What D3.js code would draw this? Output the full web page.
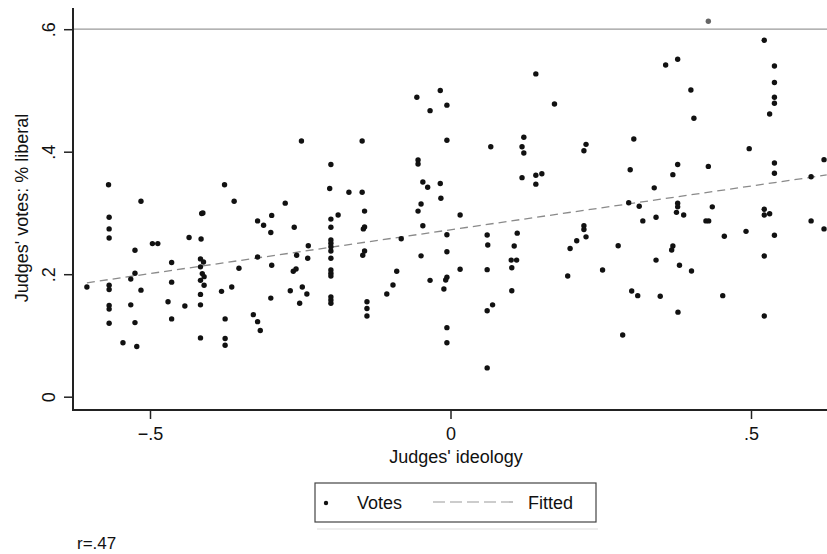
<!DOCTYPE html>
<html>
<head>
<meta charset="utf-8">
<script src="https://cdn.jsdelivr.net/npm/d3@7"></script>
<style>
  html, body { margin: 0; padding: 0; background: #fff; }
  svg { display: block; font-family: "Liberation Sans", Arial, sans-serif; }
</style>
</head>
<body>
<svg id="chart" width="827" height="554"></svg>
<script>
// ---- data ----
const ideology = [
  -0.569,-0.515,-0.376,-0.360,
  -0.568,-0.568,-0.568,-0.414,-0.412,-0.2975,-0.321,-0.311,-0.299,-0.435,-0.415,-0.496,-0.487,-0.525,-0.464,-0.416,
  -0.411,-0.321,-0.2975,-0.352,-0.525,-0.532,-0.416,-0.413,-0.410,-0.416,-0.464,-0.410,-0.605,-0.568,-0.568,-0.515,
  -0.381,-0.364,-0.416,-0.470,-0.299,-0.568,-0.568,-0.532,-0.442,-0.416,-0.464,-0.568,-0.525,-0.375,-0.328,-0.321,
  -0.3165,-0.545,-0.522,-0.416,-0.375,-0.375,
  0.142,-0.017,-0.056,-0.006,-0.034,-0.248,-0.147,-0.006,0.122,0.067,0.119,0.122,-0.199,-0.054,-0.054,0.119,
  0.142,0.152,0.142,-0.201,-0.169,-0.147,-0.046,-0.038,-0.017,-0.016,-0.275,-0.049,
  -0.199,-0.187,-0.143,-0.054,0.016,-0.260,-0.199,-0.145,-0.143,-0.046,-0.006,0.061,0.111,-0.082,-0.2366,-0.199,
  -0.199,-0.199,-0.199,0.062,0.106,-0.256,-0.2376,-0.199,-0.143,-0.146,-0.049,-0.006,0.101,0.110,-0.2616,-0.257,
  -0.199,-0.199,-0.199,-0.0895,0.016,0.061,0.102,-0.034,-0.006,-0.008,-0.2666,-0.2466,-0.239,-0.251,-0.199,-0.199,
  -0.199,-0.0957,-0.106,-0.011,0.102,-0.139,-0.139,-0.139,0.070,0.061,-0.006,-0.006,0.061,
  0.429,0.522,0.358,0.378,0.539,0.400,0.539,0.539,0.539,0.531,0.173,0.405,0.305,0.2255,0.222,0.497,
  0.6215,0.299,0.378,0.370,0.429,0.539,0.539,0.600,0.339,0.2965,
  0.314,0.378,0.378,0.376,0.388,0.4356,0.522,0.522,0.531,0.320,0.342,0.425,0.4296,0.600,0.6215,0.222,
  0.222,0.2255,0.210,0.199,0.279,0.4556,0.4917,0.539,0.370,0.368,0.522,0.342,0.381,0.401,0.195,0.253,
  0.3015,0.3115,0.349,0.453,0.3785,0.522,0.2865
];
const votes = [
  0.346,0.319,0.346,0.319,
  0.293,0.274,0.259,0.299,0.300,0.296,0.287,0.280,0.268,0.260,0.2575,0.250,0.250,0.239,0.219,0.225,
  0.220,0.228,0.2145,0.2096,0.2015,0.192,0.212,0.201,0.196,0.190,0.187,0.182,0.179,0.182,0.175,0.174,
  0.172,0.179,0.167,0.155,0.161,0.149,0.143,0.150,0.148,0.150,0.127,0.120,0.121,0.127,0.134,0.1225,
  0.108,0.088,0.082,0.096,0.095,0.084,
  0.527,0.500,0.489,0.476,0.467,0.4175,0.4175,0.4186,0.4235,0.408,0.408,0.398,0.379,0.3865,0.380,0.3576,
  0.3615,0.364,0.347,0.340,0.3337,0.3337,0.3505,0.342,0.348,0.324,0.316,0.3146,
  0.290,0.2967,0.303,0.303,0.2967,0.2766,0.2766,0.274,0.277,0.279,0.2645,0.264,0.267,0.258,0.2465,0.256,
  0.2505,0.245,0.238,0.2477,0.246,0.231,0.226,0.226,0.238,0.231,0.230,0.2367,0.223,0.223,0.2047,0.2085,
  0.2069,0.2015,0.197,0.2047,0.208,0.2074,0.2106,0.190,0.195,0.1905,0.173,0.179,0.1677,0.1525,0.163,0.158,
  0.1525,0.1824,0.1677,0.1758,0.173,0.155,0.144,0.1318,0.150,0.1404,0.1127,0.088,0.047,
  0.613,0.582,0.5415,0.551,0.540,0.5007,0.513,0.489,0.479,0.4616,0.478,0.4545,0.4207,0.412,0.4016,0.405,
  0.387,0.3706,0.379,0.3625,0.376,0.3815,0.3647,0.359,0.341,0.3167,
  0.311,0.316,0.310,0.301,0.2967,0.310,0.306,0.2967,0.2988,0.287,0.293,0.287,0.287,0.287,0.274,0.279,
  0.273,0.261,0.2547,0.242,0.2465,0.262,0.270,0.2635,0.246,0.2395,0.2297,0.223,0.2145,0.2052,0.197,0.2069,
  0.1726,0.165,0.164,0.165,0.138,0.1318,0.1007
];
const fitX = [-0.605, 0.626];
const fitY = [0.186, 0.362];
const xTicks = [-0.5, 0, 0.5];
const xTickLabels = ["\u2212.5", "0", ".5"];
const yTicks = [0, 0.2, 0.4, 0.6];
const yTickLabels = ["0", ".2", ".4", ".6"];
const xTitle = "Judges' ideology";
const yTitle = "Judges' votes: % liberal";
const legendLabels = ["Votes", "Fitted"];
const note = "r=.47";

(function draw() {
  const svg = d3.select("#chart");
  const plotL = 73, plotR = 827, plotT = 8, plotB = 410;
  const x = d3.scaleLinear().domain([-0.5, 0.5]).range([150, 751]);
  const y = d3.scaleLinear().domain([0, 0.6]).range([396.7, 29.2]);
  const font = 18;

  // gridline at top tick
  svg.append("line")
    .attr("x1", plotL).attr("x2", plotR)
    .attr("y1", y(0.6)).attr("y2", y(0.6))
    .attr("stroke", "#9a9a9a").attr("stroke-width", 1.2);

  // fitted line
  svg.append("path")
    .datum(fitX.map((d, i) => [d, fitY[i]]))
    .attr("d", d3.line().x(d => x(d[0])).y(d => y(d[1])))
    .attr("fill", "none")
    .attr("stroke", "#8a8a8a")
    .attr("stroke-width", 1.3)
    .attr("stroke-dasharray", "8,5");

  // points
  svg.append("g").selectAll("circle")
    .data(ideology.map((d, i) => [d, votes[i]]))
    .join("circle")
    .attr("cx", d => x(d[0]))
    .attr("cy", d => y(d[1]))
    .attr("r", 2.7)
    .attr("fill", d => d[1] > 0.6 ? "#666" : "#111");

  // x axis
  const xAxis = svg.append("g").attr("transform", `translate(0,${plotB})`)
    .call(d3.axisBottom(x).tickValues(xTicks).tickSize(9).tickFormat((d, i) => xTickLabels[i]));
  xAxis.select(".domain").remove();
  xAxis.append("line").attr("x1", plotL - 1).attr("x2", plotR).attr("stroke", "#222").attr("stroke-width", 2);
  xAxis.selectAll(".tick line").attr("stroke", "#222").attr("stroke-width", 1.5);
  xAxis.selectAll(".tick text")
    .attr("y", 29.5).attr("dy", 0)
    .attr("font-size", font).attr("font-family", "Liberation Sans, Arial, sans-serif")
    .attr("fill", "#111");

  // y axis
  const yAxis = svg.append("g").attr("transform", `translate(${plotL},0)`)
    .call(d3.axisLeft(y).tickValues(yTicks).tickSize(9).tickFormat((d, i) => yTickLabels[i]));
  yAxis.select(".domain").remove();
  yAxis.append("line").attr("y1", plotT).attr("y2", plotB + 1).attr("stroke", "#222").attr("stroke-width", 2);
  yAxis.selectAll(".tick line").attr("stroke", "#222").attr("stroke-width", 1.5);
  yAxis.selectAll(".tick text")
    .attr("x", null).attr("dy", 0)
    .attr("transform", "translate(-18,0) rotate(-90)")
    .attr("text-anchor", "middle")
    .attr("font-size", font).attr("font-family", "Liberation Sans, Arial, sans-serif")
    .attr("fill", "#111");

  // titles
  svg.append("text")
    .attr("x", 456).attr("y", 463)
    .attr("text-anchor", "middle")
    .attr("font-size", font).attr("fill", "#111")
    .text(xTitle);
  svg.append("text")
    .attr("transform", "translate(28,208) rotate(-90)")
    .attr("text-anchor", "middle")
    .attr("font-size", font).attr("fill", "#111")
    .text(yTitle);

  // legend
  const lg = svg.append("g");
  lg.append("line").attr("x1", 317).attr("x2", 598).attr("y1", 529).attr("y2", 529)
    .attr("stroke", "#e8e8e8").attr("stroke-width", 1.5);
  lg.append("rect").attr("x", 315).attr("y", 483).attr("width", 281).attr("height", 39)
    .attr("fill", "#fff").attr("stroke", "#444").attr("stroke-width", 1.2);
  lg.append("circle").attr("cx", 326).attr("cy", 503).attr("r", 2.2).attr("fill", "#111");
  lg.append("text").attr("x", 357).attr("y", 508.5).attr("font-size", font).attr("fill", "#111").text(legendLabels[0]);
  lg.append("line").attr("x1", 433).attr("x2", 518).attr("y1", 502).attr("y2", 502)
    .attr("stroke", "#9a9a9a").attr("stroke-width", 1.2).attr("stroke-dasharray", "12,5");
  lg.append("text").attr("x", 528).attr("y", 508.5).attr("font-size", font).attr("fill", "#111").text(legendLabels[1]);

  // note
  svg.append("text").attr("x", 77).attr("y", 549).attr("font-size", 17).attr("fill", "#111").text(note);
})();
</script>
</body>
</html>
